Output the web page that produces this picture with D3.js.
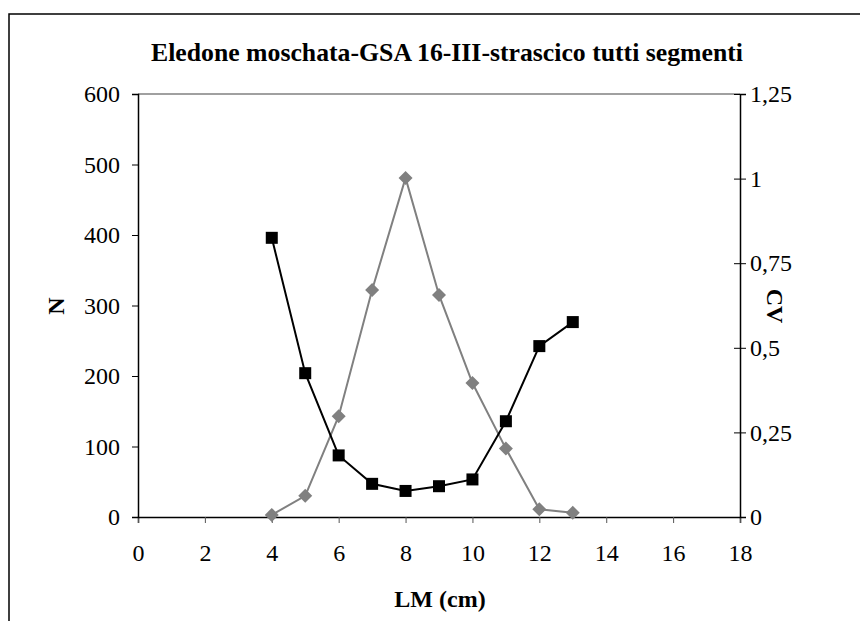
<!DOCTYPE html>
<html>
<head>
<meta charset="utf-8">
<script src="https://cdn.jsdelivr.net/npm/d3@7"></script>
<style>
body { margin: 0; background: #fff; }
text { font-family: "Liberation Serif", "Times New Roman", serif; }
</style>
</head>
<body>
<div id="chart"></div>
<script>
// Chart data
let lengths = [4, 5, 6, 7, 8, 9, 10, 11, 12, 13];
let nValues = [3, 30, 143, 322, 481, 315, 190, 97, 11, 6];
let cvValues = [0.825, 0.425, 0.182, 0.098, 0.077, 0.091, 0.111, 0.283, 0.505, 0.576];
let xTicks = [0, 2, 4, 6, 8, 10, 12, 14, 16, 18];
let nTicks = [0, 100, 200, 300, 400, 500, 600];
let cvTicks = [0, 0.25, 0.5, 0.75, 1, 1.25];
let cvTickLabels = ['0', '0,25', '0,5', '0,75', '1', '1,25'];

let width = 860;
let height = 621;
let plotLeft = 138, plotRight = 740, plotTop = 94, plotBottom = 517;

let svg = d3.select('#chart')
	.append('svg')
	.attr('width', width)
	.attr('height', height);

// outer frame
svg.append('rect')
	.attr('x', 9)
	.attr('y', 14)
	.attr('width', 900)
	.attr('height', 700)
	.attr('fill', 'none')
	.attr('stroke', '#000')
	.attr('stroke-width', 1.5);

let x = d3.scaleLinear().domain([0, 18]).range([plotLeft, plotRight]);
let yN = d3.scaleLinear().domain([0, 600]).range([plotBottom, plotTop]);
let yCV = d3.scaleLinear().domain([0, 1.25]).range([plotBottom, plotTop]);

// top border of plot area
svg.append('line')
	.attr('x1', plotLeft)
	.attr('x2', plotRight)
	.attr('y1', plotTop)
	.attr('y2', plotTop)
	.attr('stroke', '#808080')
	.attr('stroke-width', 1.5);

// axes
let xAxis = svg.append('g')
	.attr('transform', 'translate(0,' + plotBottom + ')')
	.call(d3.axisBottom(x).tickValues(xTicks).tickSize(6).tickPadding(21).tickFormat(d3.format('d')));
let leftAxis = svg.append('g')
	.attr('transform', 'translate(' + plotLeft + ',0)')
	.call(d3.axisLeft(yN).tickValues(nTicks).tickSize(6).tickPadding(12));
let rightAxis = svg.append('g')
	.attr('transform', 'translate(' + plotRight + ',0)')
	.call(d3.axisRight(yCV).tickValues(cvTicks).tickSize(6).tickPadding(4)
		.tickFormat(function(d, i){ return cvTickLabels[i]; }));

[xAxis, leftAxis, rightAxis].forEach(function(a){
	a.select('.domain').attr('stroke', '#000').attr('stroke-width', 1.5);
	a.selectAll('.tick line').attr('stroke', '#000').attr('stroke-width', 1);
	a.selectAll('.tick text')
		.attr('font-size', 24)
		.attr('fill', '#000');
});
// right ticks cross the axis
rightAxis.selectAll('.tick line').attr('x1', -6).attr('x2', 6);
xAxis.selectAll('.tick line').attr('stroke', '#555');

let nData = lengths.map(function(d, i){ return {x: d, y: nValues[i]}; });
let cvData = lengths.map(function(d, i){ return {x: d, y: cvValues[i]}; });

// N series (grey diamonds)
svg.append('path')
	.datum(nData)
	.attr('fill', 'none')
	.attr('stroke', '#808080')
	.attr('stroke-width', 2)
	.attr('d', d3.line().x(function(d){ return x(d.x); }).y(function(d){ return yN(d.y); }));

svg.append('g').selectAll('path')
	.data(nData)
	.enter()
	.append('path')
	.attr('transform', function(d){ return 'translate(' + x(d.x) + ',' + yN(d.y) + ')'; })
	.attr('d', 'M0,-7L7,0L0,7L-7,0Z')
	.attr('fill', '#808080');

// CV series (black squares)
svg.append('path')
	.datum(cvData)
	.attr('fill', 'none')
	.attr('stroke', '#000')
	.attr('stroke-width', 2)
	.attr('d', d3.line().x(function(d){ return x(d.x); }).y(function(d){ return yCV(d.y); }));

svg.append('g').selectAll('rect')
	.data(cvData)
	.enter()
	.append('rect')
	.attr('x', function(d){ return x(d.x) - 6; })
	.attr('y', function(d){ return yCV(d.y) - 6; })
	.attr('width', 12)
	.attr('height', 12)
	.attr('fill', '#000');

// titles
svg.append('text')
	.text('Eledone moschata-GSA 16-III-strascico tutti segmenti')
	.attr('x', 447)
	.attr('y', 61)
	.attr('text-anchor', 'middle')
	.attr('font-size', 25)
	.attr('font-weight', 'bold')
	.attr('textLength', 592)
	.attr('lengthAdjust', 'spacingAndGlyphs');

svg.append('text')
	.text('LM (cm)')
	.attr('x', 440)
	.attr('y', 607)
	.attr('text-anchor', 'middle')
	.attr('font-size', 24)
	.attr('font-weight', 'bold');

svg.append('text')
	.text('N')
	.attr('transform', 'translate(64,306) rotate(-90)')
	.attr('text-anchor', 'middle')
	.attr('font-size', 24)
	.attr('font-weight', 'bold');

svg.append('text')
	.text('CV')
	.attr('transform', 'translate(767,306) rotate(90)')
	.attr('text-anchor', 'middle')
	.attr('font-size', 24)
	.attr('font-weight', 'bold');
</script>
</body>
</html>
